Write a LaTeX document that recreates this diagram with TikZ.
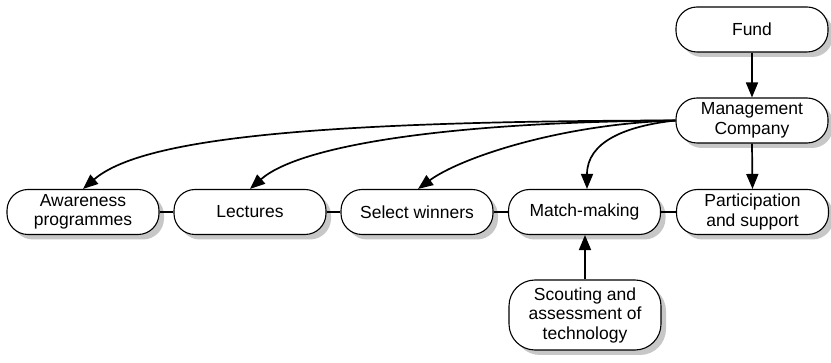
\documentclass[tikz,border=0pt]{standalone}
\usepackage{fontspec}
\setmainfont{Liberation Sans}
\usetikzlibrary{arrows.meta,shadows}
\begin{document}
\begin{tikzpicture}[x=1pt,y=-1pt,
  box/.style={draw=black, line width=1.1pt, fill=white, rounded corners=21pt,
    minimum width=152pt, minimum height=45pt, align=center, inner sep=2pt,
    font=\fontsize{17.5}{19.5}\selectfont,
    drop shadow={shadow xshift=5pt, shadow yshift=-5pt, fill=black!22, opacity=1}},
  tallbox/.style={box, minimum height=70pt, rounded corners=26pt},
  link/.style={line width=1.1pt},
  flow/.style={line width=1.7pt, -{Triangle[length=15pt,width=12pt]}}]
\useasboundingbox (0,0) rectangle (831,363);

% upper chain
\node[box] (fund) at (752,29.5) {Fund};
\node[box] (mc) at (752,120.5) {Management\\Company};

% activity row
\node[box] (aw)  at (83,212)  {Awareness\\programmes};
\node[box] (lec) at (250,212) {Lectures};
\node[box] (sel) at (417,212) {Select winners};
\node[box] (mm)  at (584.5,212) {Match-making};
\node[box] (par) at (752.5,212) {Participation\\and support};

% feeder
\node[tallbox] (sc) at (585,315) {Scouting and\\assessment of\\technology};

% links along the row
\draw[link] (aw.east) -- (lec.west);
\draw[link] (lec.east) -- (sel.west);
\draw[link] (sel.east) -- (mm.west);
\draw[link] (mm.east) -- (par.west);

% flows
\draw[flow] (fund.south) -- (mc.north);
\draw[flow] (mc.south) -- (par.north);
\draw[flow] (mc.west) .. controls (300,121) and (140,140) .. (aw.north);
\draw[flow] (mc.west) .. controls (450,122) and (300,145) .. (lec.north);
\draw[flow] (mc.west) .. controls (560,124) and (460,158) .. ([xshift=1pt]sel.north);
\draw[flow] (mc.west) .. controls (625,126) and (587,142) .. ([xshift=2.5pt]mm.north);
\draw[flow] (sc.north) -- (sc.north |- mm.south);
\end{tikzpicture}
\end{document}
